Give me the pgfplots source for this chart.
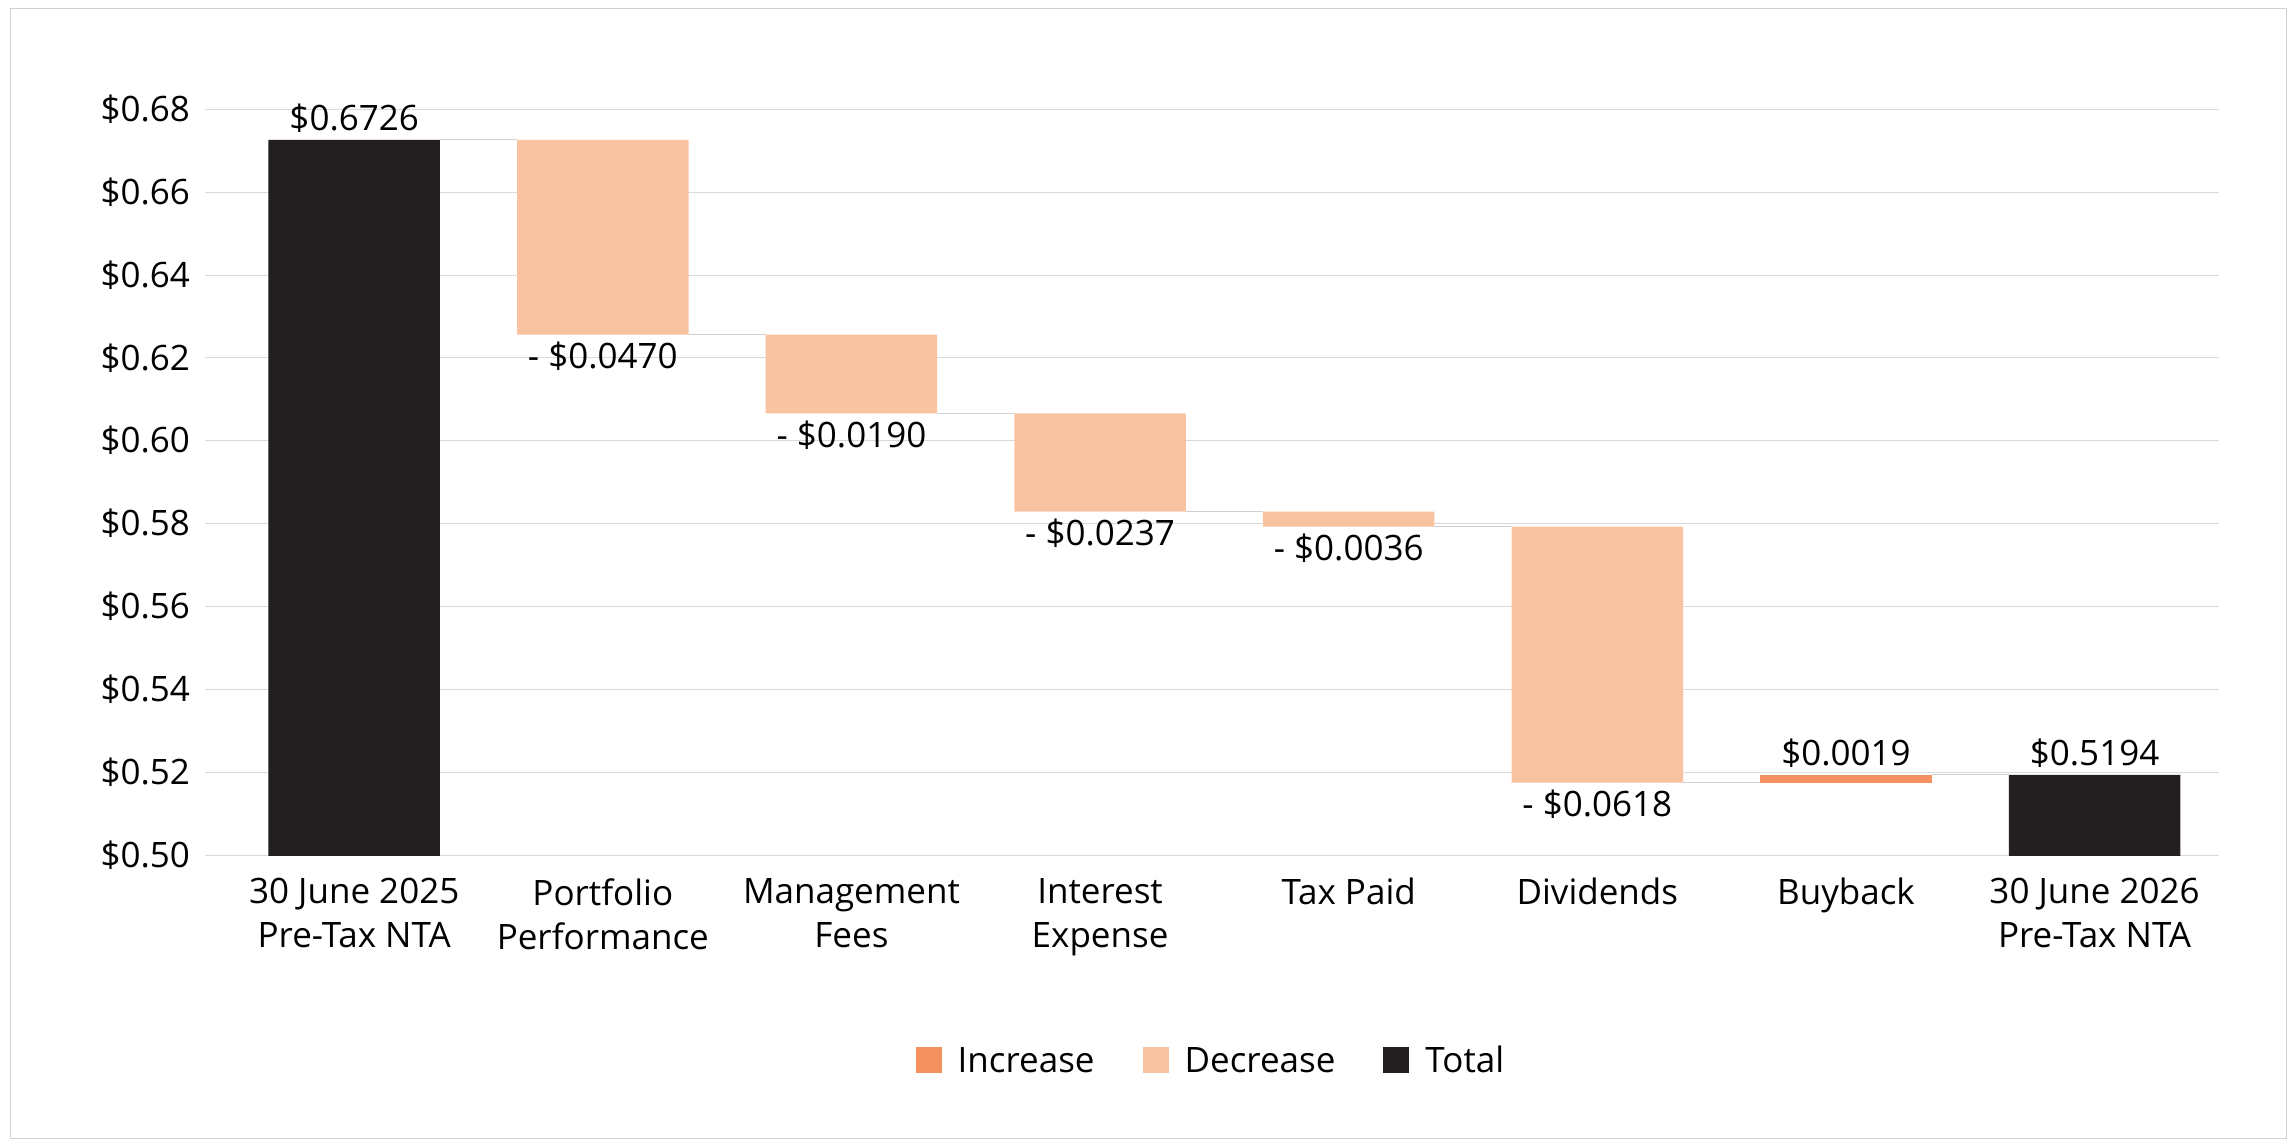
\documentclass[border=0pt]{standalone}
\usepackage{pgfplots}
\pgfplotsset{compat=1.18}
\usepackage{fontspec}
\setmainfont{Open Sans}
\definecolor{tot}{HTML}{231F20}
\definecolor{dec}{HTML}{F9C3A2}
\definecolor{inc}{HTML}{F4915F}
\definecolor{conn}{HTML}{D0D0D0}
\begin{document}
\begin{tikzpicture}
\path (0,0) rectangle (1148pt,573pt);
\draw[gray!35] (5pt,4pt) rectangle (1143pt,569pt);
\pgfplotsset{common/.style={
  at={(102.5pt,145.4pt)}, anchor=south west,
  scale only axis, width=1007pt, height=373pt,
  xmin=-0.6, xmax=7.5, ymin=0.50, ymax=0.68}}
\begin{axis}[common,
  ybar stacked, bar width=0.69,
  axis line style={draw=none},
  ymajorgrids, grid style={conn!80},
  ytick={0.50,0.52,...,0.681},
  yticklabel={\$\pgfmathprintnumber[fixed,fixed zerofill,precision=2]{\tick}},
  /pgf/number format/assume math mode=true,
  tick style={draw=none},
  ticklabel style={font=\fontsize{17.5}{22}\selectfont},
  yticklabel style={xshift=-4pt},
  xtick={0,...,7},
  xticklabels={30 June 2025\\Pre-Tax NTA, Portfolio\\Performance, Management\\Fees, Interest\\Expense, Tax Paid, Dividends, Buyback, 30 June 2026\\Pre-Tax NTA},
  xticklabel style={align=center, yshift=-8pt},
  legend style={at={(0.5,-0.276)}, anchor=center, draw=none, legend columns=3,
    font=\fontsize{17.5}{22}\selectfont, /tikz/every even column/.append style={column sep=22pt}},
  legend image code/.code={\fill[#1] (0pt,-6pt) rectangle (13pt,7pt);},
  legend cell align=left,
]
\addplot[draw=none, fill=none, forget plot] coordinates {(0,0) (1,0.6256) (2,0.6066) (3,0.5829) (4,0.5793) (5,0.5175) (6,0.5175) (7,0)};
\addplot[draw=none, fill=inc] coordinates {(0,0) (1,0) (2,0) (3,0) (4,0) (5,0) (6,0.0019) (7,0)};
\addplot[draw=none, fill=dec] coordinates {(0,0) (1,0.0470) (2,0.0190) (3,0.0237) (4,0.0036) (5,0.0618) (6,0) (7,0)};
\addplot[draw=none, fill=tot] coordinates {(0,0.6726) (1,0) (2,0) (3,0) (4,0) (5,0) (6,0) (7,0.5194)};
\legend{\hspace{6pt}Increase, \hspace{6pt}Decrease, \hspace{6pt}Total}
\end{axis}
\begin{axis}[common, hide axis, clip=false]
\addplot[conn, thin] coordinates {(0.345,0.6726) (0.655,0.6726)};
\addplot[conn, thin] coordinates {(1.345,0.6256) (1.655,0.6256)};
\addplot[conn, thin] coordinates {(2.345,0.6066) (2.655,0.6066)};
\addplot[conn, thin] coordinates {(3.345,0.5829) (3.655,0.5829)};
\addplot[conn, thin] coordinates {(4.345,0.5793) (4.655,0.5793)};
\addplot[conn, thin] coordinates {(5.345,0.5175) (5.655,0.5175)};
\addplot[conn, thin] coordinates {(6.345,0.5194) (6.655,0.5194)};
\begin{scope}[every node/.style={font=\fontsize{17.5}{22}\selectfont}]
\node[above] at (axis cs:0,0.6726) {\$0.6726};
\node[below] at (axis cs:1,0.6256) {- \$0.0470};
\node[below] at (axis cs:2,0.6066) {- \$0.0190};
\node[below] at (axis cs:3,0.5829) {- \$0.0237};
\node[below] at (axis cs:4,0.5793) {- \$0.0036};
\node[below] at (axis cs:5,0.5175) {- \$0.0618};
\node[above] at (axis cs:6,0.5194) {\$0.0019};
\node[above] at (axis cs:7,0.5194) {\$0.5194};
\end{scope}
\end{axis}
\end{tikzpicture}
\end{document}
